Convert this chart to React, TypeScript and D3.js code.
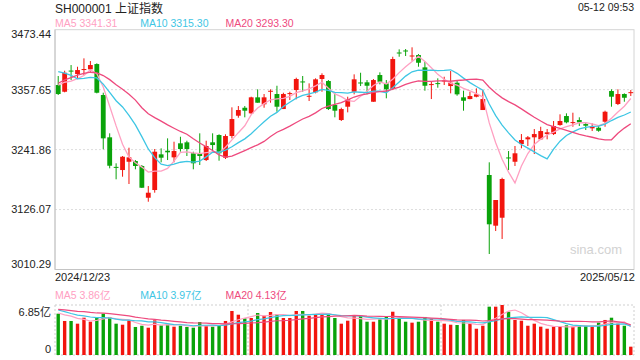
import React from 'react';
import * as d3 from 'd3';

// ---- data ----
const dateLabels = ['2024/12/23', '2025/05/12'];
const priceTicks = [3010.29, 3126.07, 3241.86, 3357.65, 3473.44];
const volumeTicks = [0, 6.85];
const priceLegend = ['MA5 3341.31', 'MA10 3315.30', 'MA20 3293.30'];
const volumeLegend = ['MA5 3.86亿', 'MA10 3.97亿', 'MA20 4.13亿'];
const title = 'SH000001 上证指数';
const stamp = '05-12 09:53';

// closes before the visible window (needed by the moving averages)
const priorCloses = [3259.8, 3309.8, 3295.7, 3326.5, 3364.0, 3378.8, 3364.7, 3368.9, 3404.1, 3402.5,
  3422.7, 3432.5, 3461.5, 3391.9, 3386.3, 3361.5, 3382.2, 3370.0, 3368.1];
const priorVolumes = [6.1, 6.6, 6.4, 6.0, 6.8, 6.5, 6.2, 6.3, 6.5, 6.2, 6.9, 7.2, 6.4, 6.3, 6.04, 5.9, 5.6, 5.8, 5.8];

const opens = [3366.6, 3353.6, 3394.5, 3387.8, 3396.0, 3396.9, 3407.1, 3347.3, 3265.6, 3208.5,
  3202.4, 3218.4, 3219.8, 3210.2, 3148.9, 3163.8, 3232.7, 3239.7, 3226.9, 3254.0,
  3255.9, 3234.7, 3234.7, 3221.7, 3255.9, 3270.0, 3226.2, 3268.1, 3307.3, 3322.7,
  3311.9, 3342.8, 3329.3, 3354.0, 3349.2, 3320.2, 3350.0, 3356.9, 3373.5, 3344.8,
  3352.5, 3378.2, 3374.3, 3328.0, 3299.0, 3324.7, 3353.6, 3371.5, 3371.8, 3334.3,
  3385.9, 3369.8, 3358.8, 3429.4, 3433.3, 3422.6, 3424.5, 3400.7, 3367.4, 3370.3,
  3374.4, 3364.6, 3371.0, 3342.8, 3339.5, 3344.0, 3318.3, 3192.8, 3094.9, 3110.3,
  3226.7, 3218.4, 3252.6, 3261.7, 3265.6, 3261.7, 3271.9, 3271.9, 3289.3, 3306.7,
  3294.0, 3299.0, 3291.2, 3283.0, 3284.1, 3295.7, 3355.0, 3329.9, 3349.2, 3352.0];
const highs = [3384.0, 3394.2, 3405.2, 3401.9, 3418.1, 3412.9, 3408.5, 3351.7, 3273.3, 3215.4,
  3229.5, 3245.5, 3221.7, 3212.1, 3171.5, 3243.0, 3244.3, 3263.6, 3257.1, 3266.7,
  3259.0, 3237.8, 3273.3, 3259.0, 3273.3, 3271.4, 3271.4, 3323.5, 3326.0, 3326.0,
  3344.0, 3358.3, 3349.2, 3358.3, 3365.2, 3351.7, 3353.6, 3380.7, 3384.0, 3369.8,
  3379.5, 3389.2, 3376.2, 3350.5, 3322.7, 3344.0, 3387.2, 3390.3, 3376.2, 3378.2,
  3391.1, 3376.2, 3421.2, 3435.5, 3436.1, 3439.4, 3426.4, 3411.6, 3372.9, 3379.5,
  3382.6, 3393.6, 3374.9, 3355.6, 3353.6, 3360.2, 3356.9, 3217.3, 3144.5, 3187.6,
  3239.1, 3248.8, 3271.9, 3268.1, 3281.6, 3286.0, 3281.6, 3297.1, 3310.0, 3311.9,
  3313.1, 3304.2, 3294.5, 3292.6, 3289.3, 3317.0, 3358.3, 3358.3, 3350.5, 3356.9];
const lows = [3347.3, 3352.5, 3376.2, 3379.5, 3385.9, 3392.3, 3350.5, 3242.4, 3205.7, 3184.5,
  3189.5, 3175.4, 3203.8, 3167.7, 3141.2, 3158.6, 3217.3, 3221.7, 3217.3, 3237.8,
  3229.5, 3203.8, 3212.1, 3219.8, 3241.1, 3220.4, 3223.7, 3263.6, 3303.4, 3304.2,
  3310.6, 3332.4, 3322.7, 3332.4, 3315.0, 3320.2, 3337.6, 3339.0, 3353.6, 3335.7,
  3350.5, 3353.6, 3318.3, 3304.2, 3297.1, 3313.8, 3348.6, 3364.6, 3348.6, 3334.3,
  3367.9, 3340.9, 3356.9, 3421.2, 3422.6, 3413.5, 3401.9, 3355.6, 3339.5, 3361.4,
  3366.6, 3350.5, 3345.9, 3317.0, 3339.0, 3342.8, 3318.3, 3040.2, 3084.6, 3069.2,
  3202.4, 3210.2, 3244.3, 3248.8, 3233.3, 3260.4, 3261.7, 3270.0, 3288.0, 3292.6,
  3286.0, 3287.4, 3279.7, 3277.7, 3276.4, 3286.0, 3324.7, 3327.9, 3334.3, 3345.3];
const closes = [3349.2, 3390.3, 3392.5, 3395.5, 3397.5, 3405.2, 3351.7, 3263.6, 3210.7, 3207.0,
  3228.1, 3226.9, 3210.2, 3168.2, 3158.6, 3237.8, 3226.2, 3236.6, 3239.1, 3243.0,
  3243.0, 3215.4, 3229.5, 3248.8, 3250.7, 3234.7, 3268.1, 3300.9, 3318.3, 3317.0,
  3342.8, 3332.4, 3342.8, 3355.5, 3324.7, 3349.2, 3351.0, 3378.2, 3372.4, 3345.8,
  3377.6, 3385.9, 3320.2, 3317.0, 3320.2, 3339.5, 3377.6, 3370.5, 3365.2, 3376.2,
  3372.9, 3358.3, 3416.8, 3428.4, 3432.3, 3423.6, 3409.6, 3365.2, 3368.4, 3369.3,
  3375.4, 3371.0, 3348.6, 3336.2, 3345.3, 3348.6, 3339.5, 3097.6, 3144.5, 3185.1,
  3225.7, 3234.7, 3260.4, 3265.6, 3271.9, 3277.7, 3275.2, 3287.4, 3297.1, 3294.5,
  3295.0, 3294.5, 3288.0, 3286.0, 3278.3, 3315.0, 3344.0, 3349.2, 3342.0, 3352.8];
const volumes = [5.66, 4.66, 4.66, 4.29, 5.11, 4.56, 5.07, 5.66, 5.21, 4.29,
  4.15, 4.75, 3.84, 4.01, 3.74, 4.75, 4.07, 4.21, 3.88, 4.01,
  3.84, 3.74, 4.52, 4.01, 3.88, 4.07, 4.66, 6.03, 5.52, 5.03,
  5.07, 5.75, 5.38, 5.89, 5.58, 5.07, 5.07, 6.03, 6.03, 5.38,
  5.58, 5.71, 5.66, 5.07, 4.29, 4.70, 5.48, 5.34, 4.56, 4.56,
  4.89, 5.21, 5.93, 5.11, 4.56, 4.43, 4.56, 5.21, 4.97, 4.56,
  4.29, 4.15, 4.11, 4.80, 4.29, 3.60, 4.01, 6.62, 6.62, 6.85,
  5.93, 4.80, 4.70, 4.01, 4.29, 3.88, 3.60, 3.88, 3.88, 4.07,
  3.88, 4.07, 4.01, 3.88, 4.43, 4.80, 5.11, 4.29, 4.01, 1.14];

const maPeriods = [5, 10, 20];
const maColors = ['#ffa0c2', '#3ec6e4', '#ee4a7e'];
const UP = '#f2150e';
const DOWN = '#0aa30a';

function movingAverage(prior: number[], series: number[], n: number): number[] {
  const all = prior.concat(series);
  const off = prior.length;
  return series.map((_, i) => d3.mean(all.slice(off + i - n + 1, off + i + 1)) as number);
}

// layout
const L = 55, R = 634;
const PT = 29.7, PB = 269.5;
const VT = 305, VB = 355;
const FONT = "'Liberation Sans', Arial, 'Noto Sans CJK SC', sans-serif";

export default function App() {
  const n = closes.length;
  const x = d3.scaleBand<number>().domain(d3.range(n)).range([L, R]).paddingInner(0.25).paddingOuter(0.125);
  const cx = (i: number) => (x(i) as number) + x.bandwidth() / 2;
  const y = d3.scaleLinear().domain([priceTicks[0], priceTicks[priceTicks.length - 1]]).range([PB, PT]);
  const yv = d3.scaleLinear().domain([volumeTicks[0], volumeTicks[1]]).range([VB, VT]);

  const priceMA = maPeriods.map((p) => movingAverage(priorCloses, closes, p));
  const volMA = maPeriods.map((p) => movingAverage(priorVolumes, volumes, p));
  const priceLine = d3.line<number>().x((_, i) => cx(i)).y((d) => y(d));
  const volLine = d3.line<number>().x((_, i) => cx(i)).y((d) => yv(d));

  const step = x.step();
  const vGrid = [30, 60].map((k) => L + k * step);

  return (
    <svg width={640} height={360} style={{ position: 'absolute', left: 0, top: 0, background: '#fff' }} fontFamily={FONT}>
      <defs>
        <clipPath id="pclip"><rect x={L} y={PT} width={R - L} height={PB - PT} /></clipPath>
        <clipPath id="vclip"><rect x={L} y={VT} width={R - L} height={VB - VT} /></clipPath>
      </defs>
      {/* header */}
      <text x={L} y={12.5} fontSize={12} fill="#222">{title}</text>
      <text x={R} y={10.5} fontSize={10.5} fill="#222" textAnchor="end">{stamp}</text>
      {priceLegend.map((t, k) => (
        <text key={t} x={L + k * 85.2} y={27.3} fontSize={10.5} fill={maColors[k]}>{t}</text>
      ))}

      {/* price grid */}
      {priceTicks.slice(1, -1).map((t) => (
        <line key={t} x1={L} x2={R} y1={y(t)} y2={y(t)} stroke="#ddd" strokeWidth={1} strokeDasharray="2,2" />
      ))}
      <rect x={L} y={PT} width={R - L} height={PB - PT} fill="none" stroke="#d4d4d4" strokeWidth={1} />
      <line x1={L} x2={L} y1={PT} y2={PB} stroke="#c4c4c4" />
      <line x1={L} x2={R} y1={PB} y2={PB} stroke="#c4c4c4" />
      {priceTicks.map((t) => {
        const c = Math.min(Math.max(y(t), PT + 4.7), PB - 5.3);
        return (
          <text key={t} x={51} y={c + 3.9} fontSize={11} fill="#222" textAnchor="end">{t.toFixed(2)}</text>
        );
      })}
      <text x={L} y={281} fontSize={11} fill="#222">{dateLabels[0]}</text>
      <text x={635} y={281} fontSize={11} fill="#222" textAnchor="end">{dateLabels[1]}</text>
      <text x={622} y={253.5} fontSize={13} fill="#d2d2d2" textAnchor="end">sina.com</text>

      {/* candles */}
      <g clipPath="url(#pclip)">
        {closes.map((c, i) => {
          const o = opens[i];
          const col = c >= o ? UP : DOWN;
          const top = y(Math.max(o, c));
          const h = Math.max(1, Math.abs(y(o) - y(c)));
          return (
            <g key={i}>
              <line x1={cx(i)} x2={cx(i)} y1={y(highs[i])} y2={y(lows[i])} stroke={col} strokeWidth={1} />
              <rect x={x(i)} y={top} width={x.bandwidth()} height={h} fill={col} />
            </g>
          );
        })}
        {priceMA.map((m, k) => (
          <path key={k} d={priceLine(m) || ''} fill="none" stroke={maColors[k]} strokeWidth={1.3} />
        ))}
      </g>

      {/* volume */}
      {volumeLegend.map((t, k) => (
        <text key={t} x={L + k * 85.2} y={299.4} fontSize={10.5} fill={maColors[k]}>{t}</text>
      ))}
      <rect x={L} y={VT} width={R - L} height={VB - VT} fill="none" stroke="#cfcfcf" strokeDasharray="2,2" />
      {vGrid.map((gx) => (
        <line key={gx} x1={gx} x2={gx} y1={VT} y2={VB} stroke="#cfcfcf" strokeDasharray="2,2" />
      ))}
      <text x={51} y={315.7} fontSize={11} fill="#222" textAnchor="end">{volumeTicks[1].toFixed(2) + '亿'}</text>
      <text x={51} y={352.5} fontSize={11} fill="#222" textAnchor="end">{String(volumeTicks[0])}</text>
      <g clipPath="url(#vclip)">
        {volumes.map((v, i) => {
          const col = closes[i] >= opens[i] ? UP : DOWN;
          const w = x.bandwidth() * 0.7;
          return <rect key={i} x={cx(i) - w / 2} y={yv(v)} width={w} height={VB - yv(v)} fill={col} />;
        })}
        {volMA.map((m, k) => (
          <path key={k} d={volLine(m) || ''} fill="none" stroke={maColors[k]} strokeWidth={1.2} />
        ))}
      </g>
    </svg>
  );
}
